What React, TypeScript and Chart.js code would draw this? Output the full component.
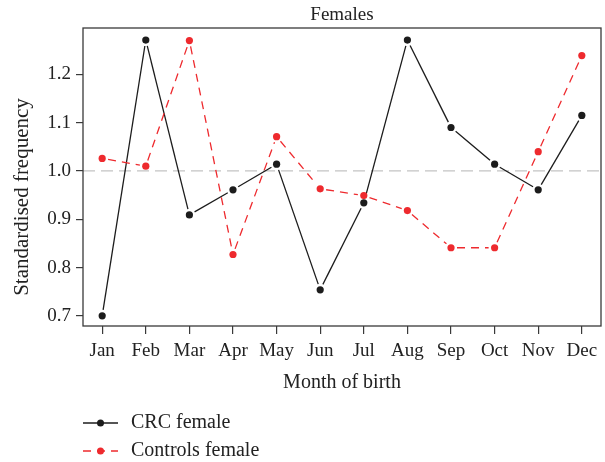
import React, { useEffect, useRef } from "react";
import { Chart, registerables } from "chart.js";

Chart.register(...registerables);

const months = ["Jan", "Feb", "Mar", "Apr", "May", "Jun", "Jul", "Aug", "Sep", "Oct", "Nov", "Dec"];
const crcFemale = [0.70, 1.271, 0.909, 0.961, 1.014, 0.754, 0.934, 1.271, 1.09, 1.014, 0.961, 1.115];
const controlsFemale = [1.026, 1.01, 1.27, 0.827, 1.071, 0.963, 0.949, 0.918, 0.841, 0.841, 1.04, 1.239];
const yTicks = [0.7, 0.8, 0.9, 1.0, 1.1, 1.2];
const referenceLevel = 1.0;
const chartTitle = "Females";
const xTitle = "Month of birth";
const yTitle = "Standardised frequency";
const seriesLabels = ["CRC female", "Controls female"];

const FONT = '"Liberation Serif", "Times New Roman", serif';
const BLACK = "#1c1c1c";
const RED = "#ee2a2e";
const AXIS = "#3a3a3a";

export default function App() {
  const ref = useRef<HTMLCanvasElement | null>(null);

  useEffect(() => {
    document.body.style.margin = "0";
    const canvas = ref.current;
    if (!canvas) return;

    const decor = {
      id: "decor",
      beforeDatasetsDraw(chart: any) {
        const { ctx, chartArea, scales } = chart;
        const y = scales.y.getPixelForValue(referenceLevel);
        ctx.save();
        ctx.strokeStyle = "#c4c4c4";
        ctx.lineWidth = 1.2;
        ctx.setLineDash([12, 6]);
        ctx.beginPath();
        ctx.moveTo(chartArea.left, y);
        ctx.lineTo(chartArea.right, y);
        ctx.stroke();
        ctx.setLineDash([]);
        // "b"-type connecting segments, with a gap around each point
        const gap = 6;
        chart.data.datasets.forEach((ds: any, di: number) => {
          const pts = chart.getDatasetMeta(di).data;
          ctx.strokeStyle = ds.borderColor;
          ctx.lineWidth = ds.borderWidth;
          ctx.setLineDash(ds.lineDash || []);
          for (let i = 0; i < pts.length - 1; i++) {
            const a = pts[i];
            const b = pts[i + 1];
            const dx = b.x - a.x;
            const dy = b.y - a.y;
            const len = Math.hypot(dx, dy);
            if (len <= gap * 2) continue;
            const ux = dx / len;
            const uy = dy / len;
            ctx.lineDashOffset = 0;
            ctx.beginPath();
            ctx.moveTo(a.x + ux * gap, a.y + uy * gap);
            ctx.lineTo(b.x - ux * gap, b.y - uy * gap);
            ctx.stroke();
          }
        });
        ctx.restore();
      },
      afterDraw(chart: any) {
        const { ctx, chartArea } = chart;
        const cx = (chartArea.left + chartArea.right) / 2;
        ctx.save();
        // frame
        ctx.strokeStyle = AXIS;
        ctx.lineWidth = 1.3;
        ctx.setLineDash([]);
        ctx.strokeRect(chartArea.left, chartArea.top, chartArea.right - chartArea.left, chartArea.bottom - chartArea.top);
        // texts
        ctx.fillStyle = "#222";
        ctx.textAlign = "center";
        ctx.textBaseline = "alphabetic";
        ctx.font = `19px ${FONT}`;
        ctx.fillText(chartTitle, cx, 20);
        ctx.font = `20px ${FONT}`;
        ctx.fillText(xTitle, cx, 388);
        ctx.save();
        ctx.font = `21px ${FONT}`;
        ctx.translate(28, 197);
        ctx.rotate(-Math.PI / 2);
        ctx.fillText(yTitle, 0, 0);
        ctx.restore();
        // legend
        ctx.font = `20px ${FONT}`;
        const rows = [
          { y: 423, color: BLACK, dash: [] as number[], label: seriesLabels[0] },
          { y: 451, color: RED, dash: [8, 6], label: seriesLabels[1] },
        ];
        rows.forEach((r) => {
          ctx.strokeStyle = r.color;
          ctx.lineWidth = 1.3;
          ctx.setLineDash(r.dash);
          ctx.beginPath();
          ctx.moveTo(83, r.y);
          ctx.lineTo(118, r.y);
          ctx.stroke();
          ctx.setLineDash([]);
          ctx.fillStyle = r.color;
          ctx.beginPath();
          ctx.arc(100.5, r.y, 3.5, 0, Math.PI * 2);
          ctx.fill();
          ctx.fillStyle = "#222";
          ctx.textAlign = "left";
          ctx.textBaseline = "middle";
          ctx.fillText(r.label, 131, r.y);
        });
        ctx.restore();
      },
    };

    const chart = new Chart(canvas, {
      type: "line",
      data: {
        datasets: [
          {
            label: seriesLabels[0],
            data: crcFemale.map((v, i) => ({ x: i, y: v })),
            borderColor: BLACK,
            backgroundColor: BLACK,
            borderWidth: 1.3,
            showLine: false,
            pointRadius: 3.6,
            pointBorderWidth: 0,
            pointBackgroundColor: BLACK,
          },
          {
            label: seriesLabels[1],
            data: controlsFemale.map((v, i) => ({ x: i, y: v })),
            borderColor: RED,
            backgroundColor: RED,
            borderWidth: 1.3,
            lineDash: [8, 6],
            showLine: false,
            pointRadius: 3.6,
            pointBorderWidth: 0,
            pointBackgroundColor: RED,
          } as any,
        ],
      },
      options: {
        responsive: false,
        animation: false,
        layout: { padding: { top: 28, right: 1, left: 0, bottom: 0 } },
        plugins: { legend: { display: false }, title: { display: false }, tooltip: { enabled: false } },
        scales: {
          x: {
            type: "linear",
            min: -0.44,
            max: 11.44,
            afterBuildTicks: (scale: any) => {
              scale.ticks = months.map((_, i) => ({ value: i }));
            },
            afterFit: (scale: any) => {
              scale.height = 136;
            },
            grid: { display: true, drawOnChartArea: false, drawTicks: true, tickLength: 8, color: AXIS, lineWidth: 1.2 },
            border: { display: false },
            ticks: {
              autoSkip: false,
              maxRotation: 0,
              padding: 6,
              color: "#222",
              font: { family: FONT, size: 19 },
              callback: (v: any) => months[v as number] ?? "",
            },
          },
          y: {
            type: "linear",
            min: 0.679,
            max: 1.296,
            afterBuildTicks: (scale: any) => {
              scale.ticks = yTicks.map((v) => ({ value: v }));
            },
            afterFit: (scale: any) => {
              scale.width = 83;
            },
            grid: { display: true, drawOnChartArea: false, drawTicks: true, tickLength: 7, color: AXIS, lineWidth: 1.2 },
            border: { display: false },
            ticks: {
              padding: 5,
              color: "#222",
              font: { family: FONT, size: 19 },
              callback: (v: any) => Number(v).toFixed(1),
            },
          },
        },
      },
      plugins: [decor],
    });

    return () => chart.destroy();
  }, []);

  return <canvas ref={ref} width={605} height={462} style={{ display: "block" }} />;
}
